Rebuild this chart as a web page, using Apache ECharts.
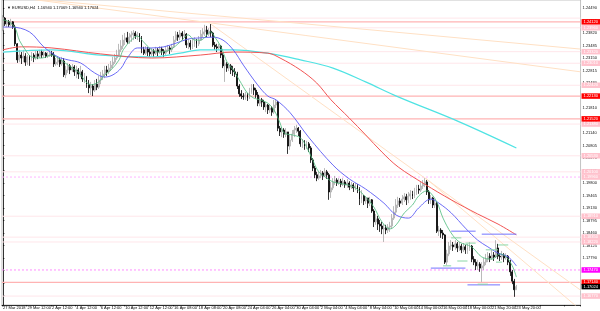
<!DOCTYPE html>
<html><head><meta charset="utf-8">
<script src="https://cdn.jsdelivr.net/npm/echarts@6/dist/echarts.min.js"></script>
<style>html,body{margin:0;padding:0;background:#fff}#c{width:600px;height:311px}</style>
</head><body><div id="c"></div>
<script>
// ---------- data ----------
const headerText = '\u25BC EURUSD,H4  1.16940 1.17069 1.16940 1.17024';
const xTickLabels = ['27 Mar 2018','29 Mar 12:00','2 Apr 12:00','4 Apr 12:00','6 Apr 12:00','10 Apr 12:00','12 Apr 12:00','16 Apr 08:00','18 Apr 08:00','20 Apr 08:00','24 Apr 04:00','26 Apr 04:00','30 Apr 04:00','2 May 04:00','4 May 04:00','8 May 04:00','10 May 04:00','14 May 00:00','16 May 00:00','18 May 00:00','21 May 20:00','23 May 20:00'];
const barsPerTick = 12;
const yTicks = [1.16785,1.17120,1.17455,1.17790,1.18125,1.18460,1.18795,1.19130,1.19465,1.19800,1.20135,1.20470,1.20805,1.21140,1.21475,1.21810,1.22145,1.22480,1.22815,1.23150,1.23485,1.23820,1.24155,1.24490];
const yMin = 1.16531, yMax = 1.24705;

const firstOpen = 1.2390;
const closes = [
1.2422,1.2406,1.2412,1.2404,1.2412,1.2398,1.2353,1.2310,1.2323,1.2315,
1.2320,1.2304,1.2318,1.2310,1.2323,1.2315,1.2326,1.2320,1.2331,1.2323,
1.2328,1.2320,1.2323,1.2328,1.2323,1.2299,1.2304,1.2310,1.2299,1.2307,
1.2270,1.2283,1.2294,1.2283,1.2291,1.2278,1.2283,1.2272,1.2278,1.2259,
1.2264,1.2245,1.2235,1.2240,1.2229,1.2245,1.2237,1.2256,1.2267,1.2272,
1.2283,1.2278,1.2288,1.2296,1.2304,1.2315,1.2323,1.2337,1.2347,1.2363,
1.2369,1.2358,1.2371,1.2377,1.2382,1.2374,1.2379,1.2369,1.2337,1.2328,
1.2339,1.2331,1.2326,1.2334,1.2328,1.2337,1.2331,1.2339,1.2334,1.2328,
1.2337,1.2342,1.2337,1.2345,1.2363,1.2377,1.2371,1.2382,1.2374,1.2379,
1.2350,1.2355,1.2345,1.2353,1.2361,1.2353,1.2363,1.2379,1.2385,1.2390,
1.2379,1.2387,1.2382,1.2350,1.2345,1.2342,1.2347,1.2323,1.2294,1.2299,
1.2288,1.2294,1.2283,1.2278,1.2272,1.2240,1.2219,1.2213,1.2211,1.2216,
1.2208,1.2224,1.2235,1.2229,1.2216,1.2194,1.2203,1.2197,1.2184,1.2189,
1.2176,1.2181,1.2170,1.2189,1.2197,1.2127,1.2117,1.2122,1.2111,1.2117,
1.2079,1.2095,1.2111,1.2122,1.2127,1.2119,1.2085,1.2090,1.2079,1.2085,
1.2074,1.2042,1.2020,1.2002,1.1993,1.1999,1.2007,1.1999,1.2010,1.2002,
1.1956,1.1967,1.1983,1.1988,1.1980,1.1985,1.1977,1.1983,1.1975,1.1980,
1.1969,1.1975,1.1967,1.1972,1.1964,1.1937,1.1945,1.1932,1.1940,1.1926,
1.1935,1.1905,1.1876,1.1884,1.1870,1.1865,1.1857,1.1859,1.1854,1.1862,
1.1865,1.1886,1.1902,1.1921,1.1932,1.1926,1.1937,1.1943,1.1935,1.1945,
1.1951,1.1945,1.1956,1.1964,1.1961,1.1972,1.1977,1.1983,1.1956,1.1935,
1.1940,1.1921,1.1926,1.1851,1.1854,1.1846,1.1841,1.1768,1.1790,1.1811,
1.1814,1.1809,1.1817,1.1806,1.1811,1.1801,1.1809,1.1801,1.1806,1.1811,
1.1776,1.1768,1.1758,1.1763,1.1752,1.1758,1.1768,1.1776,1.1784,1.1779,
1.1787,1.1782,1.1806,1.1784,1.1782,1.1787,1.1779,1.1784,1.1768,1.1742,
1.1717,1.1694,1.17024];
const highs = [
1.2430,1.2425,1.2417,1.2417,1.2420,1.2414,1.2404,1.2355,1.2337,1.2331,
1.2337,1.2328,1.2323,1.2323,1.2331,1.2328,1.2334,1.2334,1.2337,1.2337,
1.2334,1.2331,1.2331,1.2337,1.2334,1.2331,1.2315,1.2320,1.2315,1.2318,
1.2315,1.2294,1.2302,1.2299,1.2299,1.2296,1.2294,1.2288,1.2294,1.2283,
1.2275,1.2267,1.2256,1.2251,1.2245,1.2256,1.2259,1.2267,1.2278,1.2283,
1.2294,1.2294,1.2299,1.2307,1.2318,1.2326,1.2337,1.2353,1.2363,1.2377,
1.2382,1.2385,1.2382,1.2387,1.2390,1.2387,1.2385,1.2382,1.2374,1.2345,
1.2347,1.2345,1.2342,1.2342,1.2339,1.2345,1.2342,1.2347,1.2345,1.2339,
1.2347,1.2350,1.2347,1.2353,1.2374,1.2387,1.2385,1.2390,1.2387,1.2390,
1.2382,1.2366,1.2363,1.2369,1.2371,1.2366,1.2374,1.2390,1.2395,1.2404,
1.2401,1.2395,1.2406,1.2385,1.2358,1.2353,1.2353,1.2350,1.2328,1.2310,
1.2304,1.2302,1.2299,1.2294,1.2288,1.2278,1.2245,1.2229,1.2221,1.2224,
1.2221,1.2235,1.2245,1.2245,1.2235,1.2224,1.2213,1.2208,1.2203,1.2197,
1.2192,1.2192,1.2186,1.2203,1.2205,1.2200,1.2133,1.2130,1.2127,1.2127,
1.2117,1.2109,1.2122,1.2133,1.2136,1.2130,1.2122,1.2098,1.2095,1.2093,
1.2090,1.2079,1.2047,1.2026,1.2010,1.2010,1.2015,1.2012,1.2020,1.2015,
1.2007,1.1983,1.1993,1.1999,1.1993,1.1993,1.1991,1.1993,1.1988,1.1991,
1.1985,1.1983,1.1980,1.1980,1.1977,1.1969,1.1961,1.1948,1.1945,1.1940,
1.1943,1.1937,1.1910,1.1897,1.1892,1.1881,1.1876,1.1870,1.1868,1.1870,
1.1876,1.1897,1.1918,1.1937,1.1943,1.1940,1.1948,1.1953,1.1951,1.1956,
1.1961,1.1959,1.1967,1.1975,1.1975,1.1983,1.1988,1.1993,1.1988,1.1961,
1.1948,1.1943,1.1937,1.1929,1.1865,1.1859,1.1854,1.1843,1.1801,1.1822,
1.1827,1.1822,1.1827,1.1822,1.1822,1.1817,1.1819,1.1814,1.1817,1.1822,
1.1814,1.1784,1.1776,1.1774,1.1768,1.1768,1.1779,1.1790,1.1795,1.1792,
1.1801,1.1795,1.1827,1.1817,1.1792,1.1798,1.1792,1.1792,1.1787,1.1774,
1.1747,1.1723,1.17069];
const lows = [
1.2387,1.2401,1.2398,1.2398,1.2401,1.2393,1.2347,1.2302,1.2304,1.2299,
1.2304,1.2294,1.2296,1.2294,1.2307,1.2304,1.2310,1.2312,1.2315,1.2315,
1.2318,1.2315,1.2315,1.2318,1.2318,1.2291,1.2294,1.2296,1.2291,1.2294,
1.2264,1.2261,1.2275,1.2272,1.2278,1.2267,1.2261,1.2259,1.2264,1.2251,
1.2248,1.2235,1.2221,1.2216,1.2213,1.2224,1.2229,1.2232,1.2245,1.2256,
1.2261,1.2267,1.2272,1.2280,1.2288,1.2299,1.2310,1.2318,1.2331,1.2339,
1.2350,1.2353,1.2353,1.2358,1.2363,1.2366,1.2363,1.2358,1.2328,1.2323,
1.2323,1.2320,1.2318,1.2320,1.2318,1.2323,1.2320,1.2326,1.2323,1.2318,
1.2323,1.2331,1.2326,1.2331,1.2342,1.2358,1.2361,1.2363,1.2363,1.2369,
1.2342,1.2339,1.2337,1.2339,1.2345,1.2342,1.2347,1.2361,1.2371,1.2374,
1.2371,1.2374,1.2371,1.2345,1.2337,1.2331,1.2337,1.2315,1.2288,1.2251,
1.2278,1.2280,1.2272,1.2267,1.2264,1.2232,1.2211,1.2205,1.2203,1.2203,
1.2200,1.2205,1.2219,1.2216,1.2208,1.2186,1.2186,1.2184,1.2176,1.2170,
1.2165,1.2168,1.2160,1.2165,1.2181,1.2119,1.2106,1.2103,1.2101,1.2103,
1.2058,1.2069,1.2090,1.2103,1.2114,1.2106,1.2077,1.2074,1.2069,1.2071,
1.2063,1.2034,1.2012,1.1993,1.1985,1.1988,1.1993,1.1988,1.1996,1.1991,
1.1935,1.1940,1.1961,1.1975,1.1972,1.1975,1.1969,1.1972,1.1967,1.1967,
1.1961,1.1964,1.1956,1.1961,1.1953,1.1921,1.1926,1.1921,1.1924,1.1913,
1.1918,1.1900,1.1862,1.1868,1.1854,1.1849,1.1843,1.1822,1.1843,1.1846,
1.1849,1.1857,1.1881,1.1897,1.1913,1.1916,1.1921,1.1929,1.1921,1.1926,
1.1935,1.1937,1.1940,1.1948,1.1951,1.1956,1.1964,1.1969,1.1948,1.1924,
1.1924,1.1913,1.1913,1.1846,1.1838,1.1833,1.1830,1.1763,1.1760,1.1784,
1.1801,1.1798,1.1801,1.1795,1.1798,1.1792,1.1795,1.1790,1.1790,1.1798,
1.1768,1.1760,1.1747,1.1747,1.1742,1.1715,1.1747,1.1760,1.1768,1.1768,
1.1774,1.1771,1.1779,1.1776,1.1771,1.1774,1.1768,1.1774,1.1760,1.1731,
1.1709,1.1675,1.16940];

// moving averages: [bar index, price]
const maFast = [[0,1.2417],[3,1.2412],[6,1.2395],[8,1.2363],[11,1.2337],[14,1.2318],[19,1.2315],[24,1.2323],[27,1.2315],[30,1.2304],[34,1.2288],[37,1.2278],[40,1.2256],[43,1.2243],[47,1.2251],[50,1.2270],[53,1.2283],[57,1.2310],[59,1.2337],[63,1.2363],[66,1.2374],[69,1.2358],[73,1.2337],[77,1.2331],[82,1.2337],[87,1.2358],[91,1.2377],[94,1.2363],[97,1.2363],[102,1.2385],[104,1.2371],[107,1.2345],[110,1.2304],[113,1.2283],[116,1.2256],[120,1.2221],[123,1.2208],[126,1.2203],[130,1.2194],[133,1.2176],[136,1.2141],[138,1.2114],[142,1.2109],[146,1.2101],[149,1.2077],[152,1.2042],[155,1.2010],[159,1.1993],[162,1.1983],[169,1.1975],[173,1.1967],[178,1.1943],[182,1.1916],[186,1.1876],[190,1.1857],[193,1.1868],[197,1.1900],[201,1.1921],[204,1.1945],[208,1.1959],[210,1.1953],[213,1.1929],[216,1.1886],[220,1.1846],[224,1.1822],[230,1.1809],[235,1.1782],[240,1.1776],[244,1.1790],[247,1.1782],[250,1.1758],[252,1.1728]];
const maMid = [[0,1.2398],[4,1.2398],[13,1.2385],[20,1.2345],[27,1.2318],[32,1.2310],[38,1.2302],[45,1.2275],[50,1.2264],[54,1.2270],[58,1.2288],[61,1.2315],[66,1.2342],[73,1.2342],[79,1.2345],[85,1.2355],[91,1.2366],[97,1.2369],[103,1.2371],[108,1.2363],[113,1.2337],[118,1.2296],[125,1.2243],[130,1.2213],[134,1.2203],[141,1.2168],[150,1.2103],[162,1.2028],[170,1.1991],[178,1.1964],[187,1.1926],[193,1.1894],[199,1.1886],[204,1.1913],[210,1.1937],[214,1.1926],[220,1.1900],[227,1.1859],[233,1.1827],[238,1.1809],[243,1.1792],[248,1.1782],[252,1.1758]];
const maSlow = [[0,1.2337],[9,1.2345],[24,1.2342],[48,1.2326],[73,1.2315],[97,1.2323],[113,1.2331],[130,1.2328],[136,1.2315],[146,1.2283],[154,1.2248],[161,1.2203],[170,1.2154],[178,1.2109],[186,1.2063],[194,1.2023],[207,1.1977],[220,1.1935],[233,1.1897],[243,1.1870],[252,1.1841]];
const maLong = [[0,1.2331],[24,1.2337],[48,1.2323],[73,1.2318],[87,1.2328],[97,1.2337],[113,1.2337],[130,1.2328],[146,1.2310],[162,1.2288],[178,1.2251],[194,1.2211],[224,1.2144],[252,1.2074]];

// trend lines: [[bar, price], [bar, price]]
const trendLines = [
  [[9.2,1.2476],[283.5,1.2339]],
  [[9.2,1.2476],[283.5,1.2278]],
  [[102,1.2406],[283.5,1.1693]],
  [[207.5,1.1993],[283.5,1.1640]]
];
// short level segments: [fromBar, toBar, price]
const blueSegs = [[220,232,1.1851],[235,252,1.1843],[210,227,1.1752],[228,244,1.1707]];
const greenSegs = [[220,225,1.1833],[227,232,1.1819],[216,220,1.1758],[223,228,1.1771],[237,243,1.1801],[243,248,1.1814],[242,245,1.1768],[233,238,1.1709]];

// horizontal levels
const redLevels = [1.24120,1.22130,1.21520,1.17140];
const pinkLevels = [1.23960,1.23320,1.23010,1.22420,1.21380,1.20530,1.20100,1.18910,1.18350,1.18220,1.16770];
const pinkPlainLevels = [1.24220];
const magentaLevels = [1.17470];
const lightMagentaLevels = [1.19960];
const lastPrice = 1.17024;

// ---------- chart ----------
const totalSlots = 284;
const xLo = -0.5, xHi = totalSlots - 0.5;
const FONT = 'Liberation Sans, Arial, sans-serif';
const categories = Array.from({length: totalSlots}, (_, i) => String(i));
const candleData = closes.map((c, i) => [i === 0 ? firstOpen : closes[i - 1], c, lows[i], highs[i]]);

const series = [];
function levelSeries(p, lineColor, lineWidth, lineType, boxColor, z) {
  return {type: 'line', xAxisIndex: 1, data: [[xLo, p], [xHi, p]], symbol: 'none', silent: true, z: z,
    lineStyle: {color: lineColor || '#000', width: lineWidth, type: lineType, opacity: lineColor ? 1 : 0},
    endLabel: boxColor ? {show: true, distance: 1, formatter: p.toFixed(5), backgroundColor: boxColor,
      color: '#fff', fontSize: 4, fontFamily: FONT, padding: [1, 2, 0.5, 2]} : {show: false}};
}
pinkPlainLevels.forEach(p => series.push(levelSeries(p, '#ffe6ea', 1, 'solid', null, 1)));
pinkLevels.forEach(p => series.push(levelSeries(p, '#ffe6ea', 1, 'solid', '#ffc2cd', 1)));
lightMagentaLevels.forEach(p => series.push(levelSeries(p, '#ffb4ff', 1, [2, 2], '#ffc2cd', 1)));
magentaLevels.forEach(p => series.push(levelSeries(p, '#ff8cff', 1, [2, 2], '#ff00ff', 1)));
redLevels.forEach(p => series.push(levelSeries(p, '#ffb3b3', 1.2, 'solid', '#ff0000', 1)));
series.push(levelSeries(lastPrice, null, 0, 'solid', '#000000', 1));

series.push({type: 'candlestick', xAxisIndex: 0, yAxisIndex: 0, data: candleData, barWidth: 1.4, z: 3,
   itemStyle: {color: '#ffffff', color0: '#000000', borderColor: '#a8a8a8', borderColor0: '#000000', borderWidth: 0.8}});
trendLines.forEach(t => series.push({type: 'line', xAxisIndex: 1, data: t, symbol: 'none', z: 2,
  lineStyle: {color: '#ffe0c4', width: 1}}));
function maSeries(d, color, w) {
  return {type: 'line', xAxisIndex: 1, data: d, symbol: 'none', smooth: 0.35, z: 4, lineStyle: {color: color, width: w}};
}
series.push(maSeries(maLong, '#4fe3e3', 1.2));
series.push(maSeries(maSlow, '#f25555', 1));
series.push(maSeries(maMid, '#5a5af5', 0.9));
series.push(maSeries(maFast, '#4dbb7c', 0.8));
blueSegs.forEach(s => series.push({type: 'line', xAxisIndex: 1, data: [[s[0], s[2]], [s[1], s[2]]], symbol: 'none', z: 4,
  lineStyle: {color: '#7373ff', width: 1}}));
greenSegs.forEach(s => series.push({type: 'line', xAxisIndex: 1, data: [[s[0], s[2]], [s[1], s[2]]], symbol: 'none', z: 4,
  lineStyle: {color: '#8ad6a6', width: 1}}));

const chart = echarts.init(document.getElementById('c'), null, {renderer: 'canvas'});
chart.setOption({
  animation: false,
  backgroundColor: '#ffffff',
  title: {text: headerText, left: 2, top: 1, textStyle: {fontSize: 4, fontWeight: 'normal', color: '#000', fontFamily: FONT}},
  grid: {left: 1, right: 17, top: 0, bottom: 6, show: true, borderColor: '#9a9a9a', borderWidth: 0.6},
  xAxis: [
    {type: 'category', data: categories, boundaryGap: true, gridIndex: 0,
     axisLine: {show: true, lineStyle: {color: '#000', width: 0.8}},
     axisTick: {show: true, interval: barsPerTick - 1, length: 1.5, lineStyle: {color: '#000', width: 0.6}},
     axisLabel: {show: true, interval: barsPerTick - 1, align: 'left', margin: 1, fontSize: 4, color: '#000', fontFamily: FONT,
       formatter: (v, i) => (i % barsPerTick === 0 && xTickLabels[i / barsPerTick]) ? xTickLabels[i / barsPerTick] : ''},
     splitLine: {show: false}},
    {type: 'value', min: xLo, max: xHi, show: false, gridIndex: 0}
  ],
  yAxis: [{type: 'value', position: 'right', min: yMin, max: yMax, scale: true,
     axisLine: {show: true, lineStyle: {color: '#000', width: 0.8}},
     axisTick: {show: true, customValues: yTicks, length: 1.5, lineStyle: {color: '#000', width: 0.6}},
     axisLabel: {show: true, customValues: yTicks, margin: 2, fontSize: 4, color: '#111', fontFamily: FONT,
       formatter: v => v.toFixed(5)},
     splitLine: {show: false}}],
  series: series
});
</script>
</body></html>
